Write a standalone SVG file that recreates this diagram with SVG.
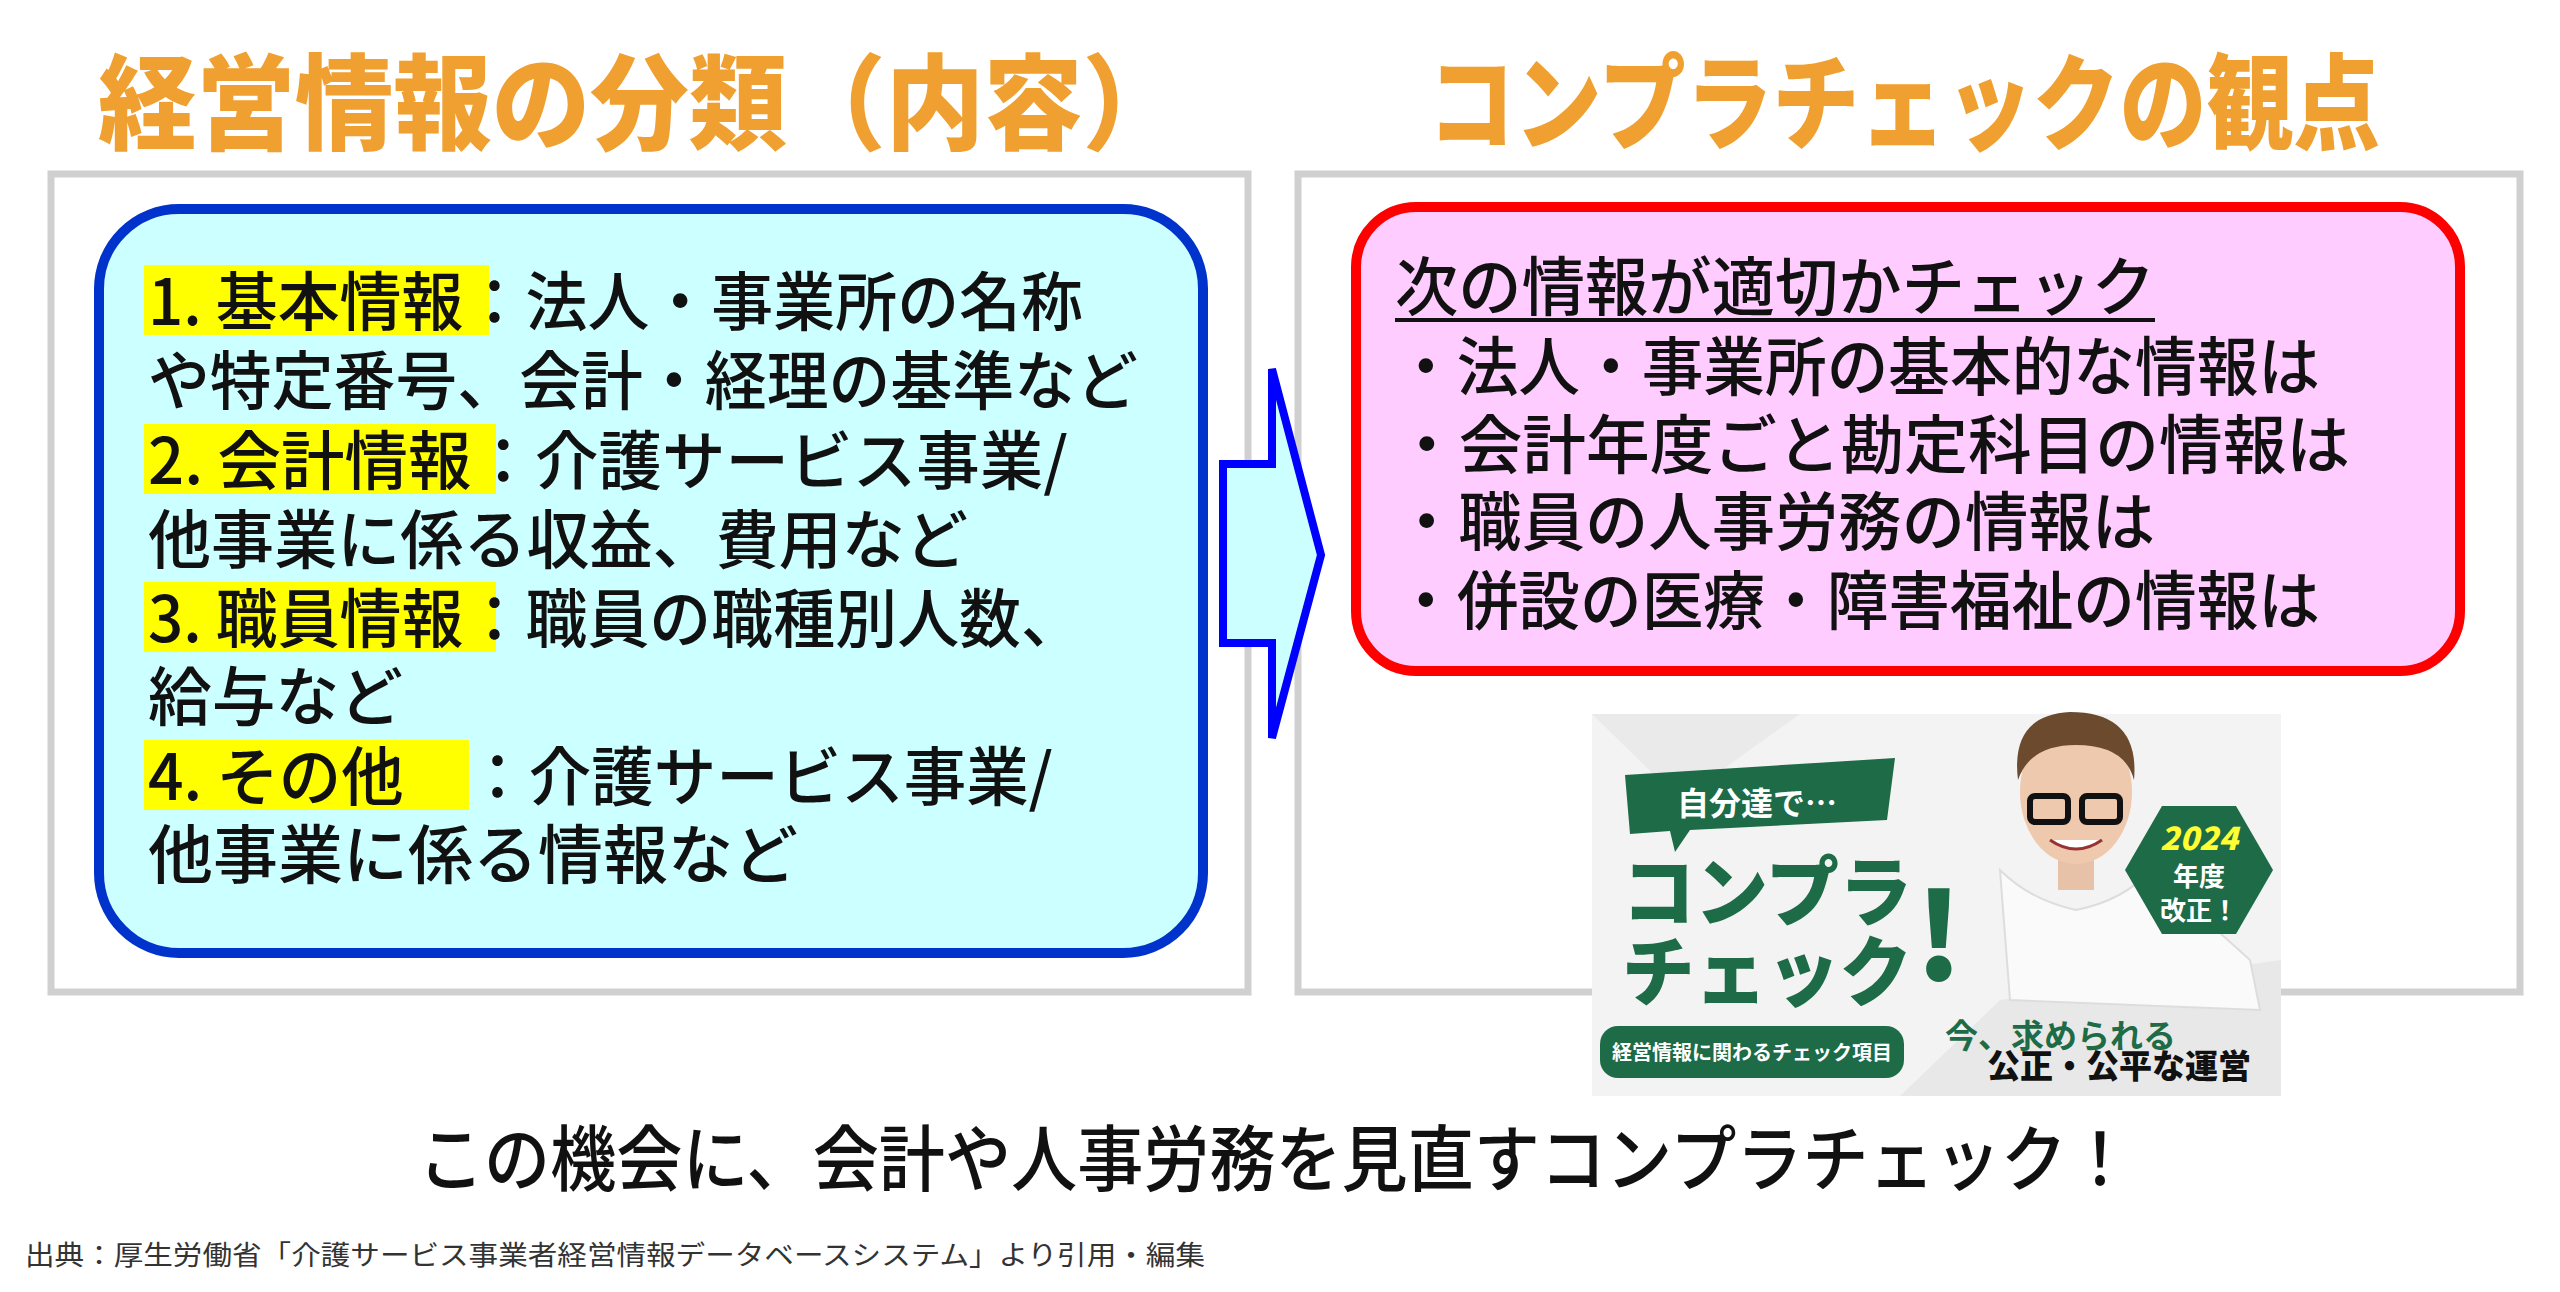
<svg xmlns="http://www.w3.org/2000/svg" width="2560" height="1292" viewBox="0 0 2560 1292">
<style>
.t{font-family:"Noto Sans CJK JP","Noto Sans",sans-serif}
.title{font-size:104px;font-weight:900;fill:#F0A030}
.body{font-size:64px;font-weight:500;fill:#111}
.hl{fill:#FFFF00}
.g{fill:#1E6B47}
</style>
<rect width="2560" height="1292" fill="#fff"/>
<g id="title-left"><text class="t title" x="98" y="142" textLength="1083" lengthAdjust="spacingAndGlyphs">経営情報の分類（内容）</text></g>
<g id="title-right"><text class="t title" x="1428" y="142" textLength="952" lengthAdjust="spacingAndGlyphs">コンプラチェックの観点</text></g>
<rect x="51" y="174" width="1197" height="818" fill="none" stroke="#D0D0D0" stroke-width="7"/>
<rect x="1298" y="174" width="1222" height="818" fill="none" stroke="#D0D0D0" stroke-width="7"/>
<g id="left-box">
<rect x="99" y="209" width="1104" height="744" rx="80" fill="#CCFFFF" stroke="#0033CC" stroke-width="10"/>
<rect class="hl" x="144" y="265" width="345" height="70"/>
<rect class="hl" x="144" y="424" width="352" height="70"/>
<rect class="hl" x="144" y="582" width="352" height="70"/>
<rect class="hl" x="144" y="740" width="325" height="70"/>
<text class="t body" x="148" y="325" textLength="935" lengthAdjust="spacingAndGlyphs">1. 基本情報：法人・事業所の名称</text>
<text class="t body" x="148" y="404" textLength="990" lengthAdjust="spacingAndGlyphs">や特定番号、会計・経理の基準など</text>
<text class="t body" x="148" y="484" textLength="920" lengthAdjust="spacingAndGlyphs">2. 会計情報：介護サービス事業/</text>
<text class="t body" x="148" y="563" textLength="820" lengthAdjust="spacingAndGlyphs">他事業に係る収益、費用など</text>
<text class="t body" x="148" y="642" textLength="935" lengthAdjust="spacingAndGlyphs">3. 職員情報：職員の職種別人数、</text>
<text class="t body" x="148" y="720" textLength="255" lengthAdjust="spacingAndGlyphs">給与など</text>
<text class="t body" x="148" y="800" textLength="905" lengthAdjust="spacingAndGlyphs">4. その他　：介護サービス事業/</text>
<text class="t body" x="148" y="878" textLength="650" lengthAdjust="spacingAndGlyphs">他事業に係る情報など</text>
</g>
<g id="connectors">
<polygon points="1223,464 1272,464 1272,369 1321,555 1272,738 1272,643 1223,643" fill="#CCFFFF" stroke="#0000FF" stroke-width="8" stroke-linejoin="miter"/>
</g>
<g id="right-box">
<rect x="1356" y="207" width="1104" height="464" rx="60" fill="#FFCCFF" stroke="#FF0000" stroke-width="10"/>
<text class="t body" x="1395" y="310" textLength="760" lengthAdjust="spacingAndGlyphs">次の情報が適切かチェック</text>
<rect x="1395" y="318" width="760" height="4" fill="#111"/>
<text class="t body" x="1395" y="390" textLength="925" lengthAdjust="spacingAndGlyphs">・法人・事業所の基本的な情報は</text>
<text class="t body" x="1395" y="468" textLength="955" lengthAdjust="spacingAndGlyphs">・会計年度ごと勘定科目の情報は</text>
<text class="t body" x="1395" y="545" textLength="760" lengthAdjust="spacingAndGlyphs">・職員の人事労務の情報は</text>
<text class="t body" x="1395" y="624" textLength="925" lengthAdjust="spacingAndGlyphs">・併設の医療・障害福祉の情報は</text>
</g>
<g id="banner">
<rect x="1592" y="714" width="689" height="382" fill="#F3F3F3"/>
<polygon points="1592,714 1800,714 1680,800" fill="#EAEAEA"/>
<polygon points="2000,1000 2281,960 2281,1096 1900,1096" fill="#E8E8E8"/>
<path d="M2010,1000 L2000,870 Q2030,900 2076,910 Q2125,900 2150,870 L2250,960 L2260,1010 Z" fill="#FAFAFA" stroke="#DDD" stroke-width="2"/>
<rect x="2058" y="850" width="36" height="40" fill="#E8C2A8"/>
<ellipse cx="2076" cy="792" rx="56" ry="72" fill="#EFC9AE"/>
<path d="M2018,780 Q2010,715 2070,712 Q2140,712 2134,780 Q2125,745 2076,745 Q2030,745 2018,780 Z" fill="#6B4A2E"/>
<rect x="2030" y="796" width="38" height="26" rx="5" fill="none" stroke="#111" stroke-width="6"/>
<rect x="2082" y="796" width="38" height="26" rx="5" fill="none" stroke="#111" stroke-width="6"/>
<path d="M2050,840 Q2076,858 2102,840" fill="#fff" stroke="#933" stroke-width="3"/>
<polygon points="1625,775 1895,758 1887,820 1690,830 1675,852 1670,831 1630,834" class="g"/>
<text class="t" x="1757" y="815" font-size="32" font-weight="700" fill="#fff" text-anchor="middle">自分達で…</text>
<text class="t g" x="1622" y="920" font-size="76" font-weight="900" textLength="290" lengthAdjust="spacingAndGlyphs">コンプラ</text>
<text class="t g" x="1622" y="1000" font-size="76" font-weight="900" textLength="290" lengthAdjust="spacingAndGlyphs">チェック</text>
<text class="t g" x="1915" y="980" font-size="120" font-weight="900">!</text>
<polygon points="2125,870 2162,806 2236,806 2273,870 2236,934 2162,934" class="g"/>
<text class="t" x="2199" y="850" font-size="32" font-weight="900" font-style="italic" fill="#FFFF33" text-anchor="middle">2024</text>
<text class="t" x="2199" y="886" font-size="26" font-weight="700" fill="#fff" text-anchor="middle">年度</text>
<text class="t" x="2199" y="920" font-size="26" font-weight="700" fill="#fff" text-anchor="middle">改正！</text>
<rect x="1600" y="1026" width="304" height="52" rx="18" class="g"/>
<text class="t" x="1752" y="1060" font-size="20" font-weight="700" fill="#fff" text-anchor="middle">経営情報に関わるチェック項目</text>
<text class="t g" x="1945" y="1048" font-size="33" font-weight="700">今、求められる</text>
<text class="t" x="1987" y="1078" font-size="33" font-weight="900" fill="#111">公正・公平な運営</text>
</g>
<g id="bottom-text"><text class="t" x="418" y="1185" font-size="72" font-weight="500" fill="#111" textLength="1715" lengthAdjust="spacingAndGlyphs">この機会に、会計や人事労務を見直すコンプラチェック！</text></g>
<g id="source"><text class="t" x="25" y="1265" font-size="27" fill="#333" textLength="1180" lengthAdjust="spacingAndGlyphs">出典：厚生労働省「介護サービス事業者経営情報データベースシステム」より引用・編集</text></g>
</svg>
